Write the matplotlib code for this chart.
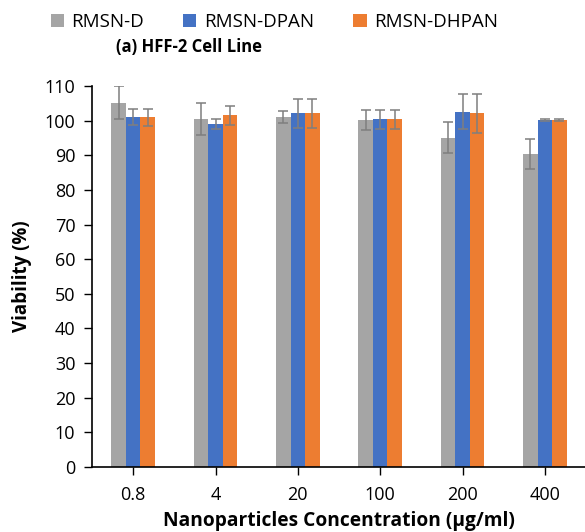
import numpy as np
import matplotlib
matplotlib.use("Agg")
import matplotlib.pyplot as plt

plt.rcParams['font.family'] = ['Open Sans', 'DejaVu Sans']

# data
conc = ['0.8', '4', '20', '100', '200', '400']
series = ['RMSN-D', 'RMSN-DPAN', 'RMSN-DHPAN']
rmsn_d = [105.2, 100.4, 101.0, 100.2, 95.1, 90.4]
rmsn_d_err = [4.8, 4.6, 1.8, 2.8, 4.4, 4.4]
rmsn_dpan = [101.0, 99.0, 102.1, 100.4, 102.6, 100.1]
rmsn_dpan_err = [2.3, 1.5, 4.2, 2.8, 5.0, 0.3]
rmsn_dhpan = [101.0, 101.5, 102.1, 100.4, 102.1, 100.1]
rmsn_dhpan_err = [2.5, 2.7, 4.2, 2.8, 5.6, 0.3]

colors = ['#A5A5A5', '#4472C4', '#ED7D31']
vals = [rmsn_d, rmsn_dpan, rmsn_dhpan]
errs = [rmsn_d_err, rmsn_dpan_err, rmsn_dhpan_err]

fig = plt.figure(figsize=(5.85, 5.32), dpi=100)
ax = fig.add_axes([92/585, 1-467/532, 494/585, (467-86)/532])

x = np.arange(len(conc))
w = 0.176
for i in range(3):
    ax.bar(x + (i-1)*w, vals[i], w, color=colors[i], label=series[i],
           yerr=errs[i], capsize=3.5,
           error_kw=dict(ecolor='#7F7F7F', elinewidth=1.1, capthick=1.1))

ax.set_xlim(-0.5, 5.5)
ax.set_ylim(0, 110)
ax.set_yticks(np.arange(0, 111, 10))
ax.set_xticks(x)
ax.set_xticklabels(conc)
ax.tick_params(axis='both', labelsize=13, length=6, width=1, color='black', pad=8)
ax.tick_params(axis='y', pad=6)
for s in ['top', 'right']:
    ax.spines[s].set_visible(False)
ax.spines['left'].set_linewidth(1.2)
ax.spines['bottom'].set_linewidth(1.2)

ax.set_xlabel('Nanoparticles Concentration (µg/ml)', fontsize=13.8, fontweight='bold', labelpad=5)
ax.set_ylabel('Viability (%)', fontsize=13.5, fontweight='bold', labelpad=9)

fig.text(189/585, 1-47/532, '(a) HFF-2 Cell Line', fontsize=12, fontweight='bold',
         ha='center', va='center')
fig.legend(loc='center', bbox_to_anchor=(0.469, 1-22/532), ncol=3, frameon=False,
           fontsize=13.5, handlelength=0.7, handleheight=0.7, columnspacing=2.1,
           handletextpad=0.4)

plt.savefig('out.png', dpi=100)
